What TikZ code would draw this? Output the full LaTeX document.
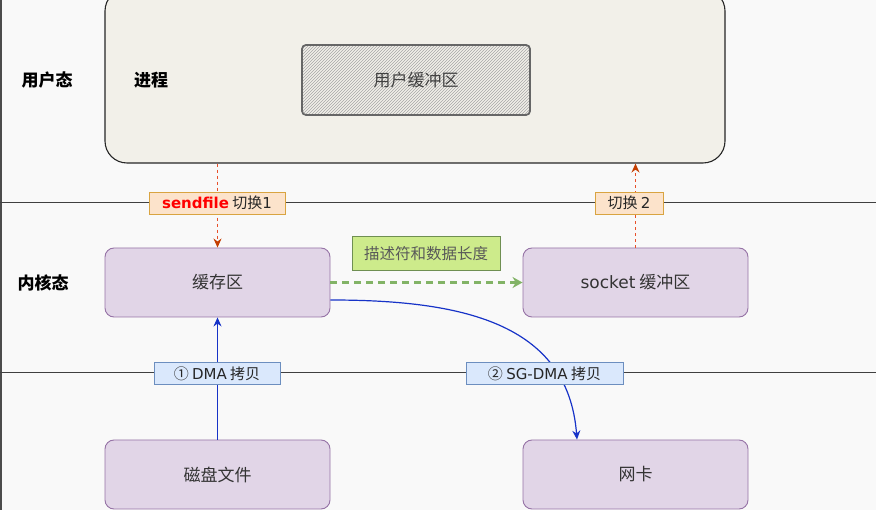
\documentclass[tikz,border=0pt]{standalone}
\usepackage{fontspec}
\setmainfont{Noto Sans CJK SC}
\newfontfamily\lat{DejaVu Sans}
\usetikzlibrary{patterns,arrows.meta,calc}
\definecolor{bgc}{HTML}{F9F9F9}
\definecolor{procfill}{HTML}{F2F0E9}
\definecolor{purfill}{HTML}{E1D5E7}
\definecolor{purdraw}{HTML}{9673A6}
\definecolor{grnfill}{HTML}{CDEB8B}
\definecolor{grndraw}{HTML}{6F8F52}
\definecolor{grnline}{HTML}{82B366}
\definecolor{orgfill}{HTML}{FCE3CB}
\definecolor{orgdraw}{HTML}{D9A441}
\definecolor{blufill}{HTML}{DAE8FC}
\definecolor{bludraw}{HTML}{6C8EBF}
\definecolor{bluline}{HTML}{1733C8}
\definecolor{redline}{HTML}{E8502A}
\definecolor{redhead}{HTML}{C43E00}
\tikzset{
  x=1pt,y=-1pt,
  purbox/.style={draw=purdraw,fill=purfill,rounded corners=9pt,line width=0.9pt,minimum width=225pt,minimum height=69pt,font=\fontsize{17}{20}\selectfont,text=black!80},
  tag/.style={draw,line width=0.9pt,inner sep=0pt,minimum height=22pt,font=\fontsize{15}{18}\selectfont,text=black!85},
  orgtag/.style={tag,fill=orgfill,draw=orgdraw},
  blutag/.style={tag,fill=blufill,draw=bludraw},
  sidelabel/.style={font=\bfseries\fontsize{17}{20}\selectfont},
  redarrow/.style={draw=redline,dash pattern=on 3pt off 3pt,line width=1.2pt,-{Stealth[length=9pt,width=8pt,color=redhead]}},
  bluarrow/.style={draw=bluline,line width=1.2pt,-{Stealth[length=9pt,width=8pt]}},
  grnarrow/.style={draw=grnline,dash pattern=on 7pt off 5pt,line width=2.4pt,-{Stealth[length=10pt,width=11pt]}},
  sepline/.style={draw=black!75,line width=1pt}
}
\begin{document}
\begin{tikzpicture}
\useasboundingbox (0,0) rectangle (876,510);
\clip (0,0) rectangle (876,510);
\fill[bgc] (0,0) rectangle (876,510);
\fill[black!70] (0,0) rectangle (2,510);

% separator lines
\draw[sepline] (0,203) -- (876,203);
\draw[sepline] (0,373) -- (876,373);

% user space process
\node[draw=black!85,fill=procfill,rounded corners=22pt,line width=1.1pt,minimum width=620pt,minimum height=174pt] (proc) at (415,76) {};
\node[sidelabel] (user) at (47,80) {用户态};
\node[sidelabel] (pname) at (151,80) {进程};
\node[draw=black!60,line width=1.8pt,fill=black!7,pattern=north east lines,pattern color=black!35,rounded corners=4pt,minimum width=228pt,minimum height=70pt] (ubufbg) at (416,80) {};
\node[font=\fontsize{17}{20}\selectfont,text=black!75] (ubuf) at (416,80) {用户缓冲区};

% kernel
\node[sidelabel] (kernel) at (43,283) {内核态};
\node[purbox] (cache) at (217.5,282.5) {缓存区};
\node[purbox] (sock) at (635.5,282.5) {{\lat socket} 缓冲区};
\node[purbox] (disk) at (217.5,474.5) {磁盘文件};
\node[purbox] (nic) at (635.5,474.5) {网卡};

% arrows
\draw[redarrow] (proc.south -| cache.north) -- (cache.north);
\draw[redarrow] (sock.north) -- (proc.south -| sock.north);
\draw[grnarrow] (cache.east) -- (sock.west);
\draw[bluarrow] (disk.north) -- (cache.south);
\coordinate (cstart) at ($(cache.east)+(0,17.5)$);
\coordinate (nend) at ($(nic.north)+(-58.5,0)$);
\draw[bluarrow] (cstart) .. controls (460,300) and (568,322) .. (nend);

% tags
\node[draw=grndraw,fill=grnfill,line width=1pt,minimum width=148pt,minimum height=34pt,inner sep=0pt,font=\fontsize{15.5}{18}\selectfont,text=black!65] (desc) at (426,254) {描述符和数据长度};
\node[orgtag,minimum width=136pt] (sw1) at (217,203) {\textcolor{red}{\lat\bfseries sendfile} 切换{\lat 1}};
\node[orgtag,minimum width=68pt] (sw2) at (629,203) {切换 {\lat 2}};
\node[blutag,minimum width=126pt] (dma) at (217,373.5) {① {\lat DMA} 拷贝};
\node[blutag,minimum width=157pt] (sgdma) at (544.5,373.5) {② {\lat SG-DMA} 拷贝};
\end{tikzpicture}
\end{document}
